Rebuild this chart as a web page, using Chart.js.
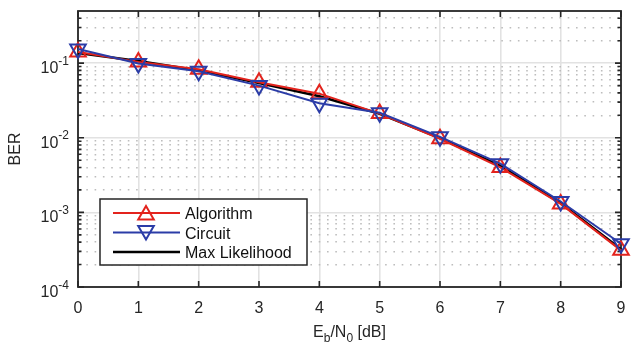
<!DOCTYPE html>
<html lang="en">
<head>
<meta charset="UTF-8" />
<title>BER vs Eb/N0</title>
<script src="https://cdn.jsdelivr.net/npm/chart.js"></script>
<style>
html, body { margin: 0; padding: 0; background: #fff; }
#wrap { width: 632px; height: 354px; }
</style>
</head>
<body>
<div id="wrap"><canvas id="berChart" width="632" height="354"></canvas></div>
<script>
// data
const snrDb = [0, 1, 2, 3, 4, 5, 6, 7, 8, 9];
const algorithmBer = [0.141, 0.104, 0.083, 0.0555, 0.039, 0.0211, 0.0097, 0.0040, 0.0013, 0.00031];
const circuitBer = [0.155, 0.099, 0.078, 0.050, 0.029, 0.0216, 0.0103, 0.0045, 0.0014, 0.00038];
const maxLikelihoodBer = [0.137, 0.107, 0.080, 0.054, 0.036, 0.0210, 0.0099, 0.0042, 0.00133, 0.00032];

const xTickLabels = ['0', '1', '2', '3', '4', '5', '6', '7', '8', '9'];
const yDecades = [1e-4, 1e-3, 1e-2, 1e-1];
const yDecadeExp = ['-4', '-3', '-2', '-1'];
const yMinorTicks = [2e-4, 3e-4, 4e-4, 5e-4, 6e-4, 7e-4, 8e-4, 9e-4,
                     2e-3, 3e-3, 4e-3, 5e-3, 6e-3, 7e-3, 8e-3, 9e-3,
                     2e-2, 3e-2, 4e-2, 5e-2, 6e-2, 7e-2, 8e-2, 9e-2,
                     0.2, 0.3, 0.4];
const seriesNames = ['Algorithm', 'Circuit', 'Max Likelihood'];

const RED = '#e3231d';
const BLUE = '#2b3ca7';
const BLACK = '#000000';
const AXIS = '#262626';
const FONT = '"Liberation Sans", Arial, sans-serif';

// box, inward ticks, tick labels, titles, legend
const axesPlugin = {
    id: 'axesPlugin',
    beforeDatasetsDraw(chart) {
        const { ctx, chartArea: a, scales } = chart;
        ctx.save();
        ctx.strokeStyle = AXIS;
        ctx.lineWidth = 1.6;
        ctx.beginPath();
        snrDb.forEach(v => {
            const px = scales.x.getPixelForValue(v);
            ctx.moveTo(px, a.bottom); ctx.lineTo(px, a.bottom - 6);
            ctx.moveTo(px, a.top); ctx.lineTo(px, a.top + 6);
        });
        yDecades.forEach(v => {
            const py = scales.y.getPixelForValue(v);
            ctx.moveTo(a.left, py); ctx.lineTo(a.left + 6, py);
            ctx.moveTo(a.right, py); ctx.lineTo(a.right - 6, py);
        });
        yMinorTicks.forEach(v => {
            const py = scales.y.getPixelForValue(v);
            ctx.moveTo(a.left, py); ctx.lineTo(a.left + 3.5, py);
            ctx.moveTo(a.right, py); ctx.lineTo(a.right - 3.5, py);
        });
        ctx.stroke();
        ctx.lineWidth = 1.8;
        ctx.strokeRect(a.left, a.top, a.right - a.left, a.bottom - a.top);
        ctx.restore();
    },
    afterDraw(chart) {
        const { ctx, chartArea: a, scales } = chart;
        ctx.save();
        ctx.fillStyle = '#262626';

        // x tick labels
        ctx.font = '16px ' + FONT;
        ctx.textAlign = 'center';
        ctx.textBaseline = 'alphabetic';
        snrDb.forEach((v, i) => {
            ctx.fillText(xTickLabels[i], scales.x.getPixelForValue(v), a.bottom + 26);
        });

        // y tick labels 10^k
        yDecades.forEach((v, i) => {
            const py = scales.y.getPixelForValue(v);
            ctx.font = '12px ' + FONT;
            const ew = ctx.measureText(yDecadeExp[i]).width;
            ctx.textAlign = 'left';
            ctx.fillText(yDecadeExp[i], a.left - 9 - ew, py + 1.5);
            ctx.font = '16px ' + FONT;
            ctx.textAlign = 'right';
            ctx.fillText('10', a.left - 9 - ew, py + 10);
        });

        // x title E_b/N_0 [dB]
        const parts = [['E', 16, 0], ['b', 12, 5], ['/N', 16, 0], ['0', 12, 5], [' [dB]', 16, 0]];
        let total = 0;
        parts.forEach(p => { ctx.font = p[1] + 'px ' + FONT; total += ctx.measureText(p[0]).width; });
        let tx = (a.left + a.right) / 2 - total / 2;
        ctx.textAlign = 'left';
        parts.forEach(p => {
            ctx.font = p[1] + 'px ' + FONT;
            ctx.fillText(p[0], tx, a.bottom + 50 + p[2]);
            tx += ctx.measureText(p[0]).width;
        });

        // y title
        ctx.save();
        ctx.translate(20, (a.top + a.bottom) / 2);
        ctx.rotate(-Math.PI / 2);
        ctx.font = '16px ' + FONT;
        ctx.textAlign = 'center';
        ctx.fillText('BER', 0, 0);
        ctx.restore();

        // legend
        const lx = 100, ly = 199, lw = 207, lh = 66;
        ctx.fillStyle = '#fff';
        ctx.fillRect(lx, ly, lw, lh);
        ctx.strokeStyle = AXIS;
        ctx.lineWidth = 1.5;
        ctx.strokeRect(lx, ly, lw, lh);
        chart.data.datasets.forEach((ds, i) => {
            const yy = 213 + i * 19.5;
            ctx.strokeStyle = ds.borderColor;
            ctx.lineWidth = ds.borderWidth;
            ctx.beginPath();
            ctx.moveTo(113, yy); ctx.lineTo(180, yy);
            ctx.stroke();
            if (ds.pointRadius > 0) {
                ctx.fillStyle = 'rgba(0,0,0,0)';
                ctx.lineWidth = ds.pointBorderWidth;
                Chart.helpers.drawPoint(ctx, {
                    pointStyle: ds.pointStyle, radius: ds.pointRadius,
                    rotation: ds.pointRotation, borderWidth: ds.pointBorderWidth
                }, 146, yy + (ds.pointRotation ? -2 : 2));
            }
            ctx.fillStyle = '#111';
            ctx.font = '16px ' + FONT;
            ctx.textAlign = 'left';
            ctx.fillText(ds.label, 185, yy + 6);
        });
        ctx.restore();
    }
};

const toPoints = arr => snrDb.map((x, i) => ({ x: x, y: arr[i] }));

new Chart(document.getElementById('berChart').getContext('2d'), {
    type: 'line',
    data: {
        datasets: [
            {
                label: seriesNames[0], data: toPoints(algorithmBer),
                borderColor: RED, borderWidth: 2, pointStyle: 'triangle', pointRadius: 9,
                pointRotation: 0, pointBorderWidth: 2, pointBorderColor: RED,
                pointBackgroundColor: 'rgba(0,0,0,0)', tension: 0, clip: false, order: 2
            },
            {
                label: seriesNames[1], data: toPoints(circuitBer),
                borderColor: BLUE, borderWidth: 2, pointStyle: 'triangle', pointRadius: 9,
                pointRotation: 180, pointBorderWidth: 2, pointBorderColor: BLUE,
                pointBackgroundColor: 'rgba(0,0,0,0)', tension: 0, clip: false, order: 1
            },
            {
                label: seriesNames[2], data: toPoints(maxLikelihoodBer),
                borderColor: BLACK, borderWidth: 2.5, pointRadius: 0, pointBorderWidth: 0,
                pointRotation: 0, tension: 0, clip: false, order: 3
            }
        ]
    },
    options: {
        responsive: false,
        animation: false,
        events: [],
        layout: { padding: { top: 8, left: 0, right: 0, bottom: 0 } },
        plugins: { legend: { display: false }, tooltip: { enabled: false } },
        scales: {
            x: {
                type: 'linear', min: 0, max: 9,
                afterBuildTicks: s => { s.ticks = snrDb.map(v => ({ value: v })); },
                afterFit: s => { s.height = 67; },
                ticks: { display: false },
                border: { display: false },
                grid: { color: '#e2e2e2', lineWidth: 1.6, drawTicks: false }
            },
            y: {
                type: 'logarithmic', position: 'left', min: 1e-4, max: 0.5,
                afterBuildTicks: s => { s.ticks = yDecades.map(v => ({ value: v })); },
                afterFit: s => { s.width = 78; },
                ticks: { display: false },
                border: { display: false },
                grid: { color: '#e2e2e2', lineWidth: 1.6, drawTicks: false }
            },
            yMinor: {
                type: 'logarithmic', position: 'right', min: 1e-4, max: 0.5,
                afterBuildTicks: s => { s.ticks = yMinorTicks.map(v => ({ value: v })); },
                afterFit: s => { s.width = 5; },
                ticks: { display: false },
                border: { display: false, dash: [1.6, 6.7] },
                grid: { color: '#bdbdbd', lineWidth: 1.6, drawTicks: false }
            }
        }
    },
    plugins: [axesPlugin]
});
</script>
</body>
</html>
